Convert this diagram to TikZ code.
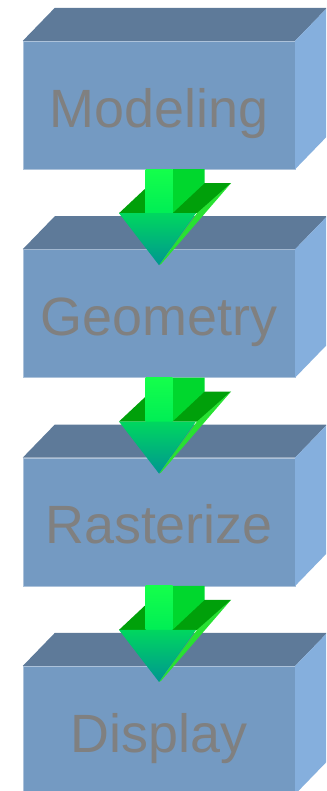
\documentclass[tikz,border=0pt]{standalone}
\usepackage{fontspec}
\newfontfamily\stagefont{Liberation Sans}
\usetikzlibrary{positioning,calc}

\definecolor{boxfront}{RGB}{116,154,194}
\definecolor{boxtop}{RGB}{94,122,153}
\definecolor{boxside}{RGB}{133,175,221}
\definecolor{stagetext}{RGB}{128,128,128}
\definecolor{shaftlight}{RGB}{20,255,75}
\definecolor{shaftmid}{RGB}{0,238,85}
\definecolor{shaftside}{RGB}{0,215,45}
\definecolor{wingtop}{RGB}{0,160,10}
\definecolor{headtop}{RGB}{0,215,95}
\definecolor{headtip}{RGB}{0,150,145}
\definecolor{headside}{RGB}{40,225,50}

\tikzset{
  stage/.style={fill=boxfront, draw=boxfront!60!white, line width=0.3pt,
    minimum width=8.16cm, minimum height=3.84cm, inner sep=0pt,
    text=stagetext, text height=1.32cm, text depth=0pt,
    font=\stagefont\fontsize{46}{50}\selectfont},
}

% Caras superior y lateral de cada bloque
\newcommand{\stagefaces}[1]{
  \fill[boxtop]  (#1.north west) -- ++(32,-33) -- ($(#1.north east)+(32,-33)$)
                 -- (#1.north east) -- cycle;
  \fill[boxside] (#1.north east) -- ++(32,-33) -- ($(#1.south east)+(32,-33)$)
                 -- (#1.south east) -- cycle;
}

% Flecha 3D entre dos bloques
\newcommand{\stagearrow}[2]{
  \coordinate (s) at (#1.south);
  \coordinate (t) at ($(#2.north)+(0,16)$);
  \fill[wingtop]   ($(s)+(-40,44)$) -- ++(32,-30) -- ++(80,0) -- ($(s)+(40,44)$) -- cycle;
  \fill[shaftside] ($(s)+(13.5,0)$) -- ++(32,0) -- ++(0,14) -- ($(s)+(13.5,44)$) -- cycle;
  \fill[headside]  ($(s)+(38,44)$) -- ++(34,-30) -- ($(t)+(2,-1)$) -- (t) -- cycle;
  \shade[top color=shaftlight, bottom color=shaftmid]
    ($(s)+(-13.5,0)$) rectangle ($(s)+(13.5,44)$);
  \shade[top color=headtop, bottom color=headtip]
    ($(s)+(-40,44)$) -- ($(s)+(37,44)$) -- (t) -- cycle;
}

\begin{document}
\begin{tikzpicture}[x=0.03cm, y=-0.03cm]

\useasboundingbox (0,0) rectangle (326,791);
\clip (0,0) rectangle (326,791);

% ================================================================
%  Bloques (cara frontal = nodo)
% ================================================================
\node[stage] (model) at (159,105) {Modeling};
\node[stage, below=2.4cm of model] (geom) {Geometry};
\node[stage, below=2.4cm of geom] (raster) {Rasterize};
\node[stage, below=2.4cm of raster] (disp) {Display};

\foreach \n in {model, geom, raster, disp}{
    \stagefaces{\n}
}

% Flechas entre etapas
\foreach \up/\down in {model/geom, geom/raster, raster/disp}{
    \stagearrow{\up}{\down}
}

\end{tikzpicture}
\end{document}
